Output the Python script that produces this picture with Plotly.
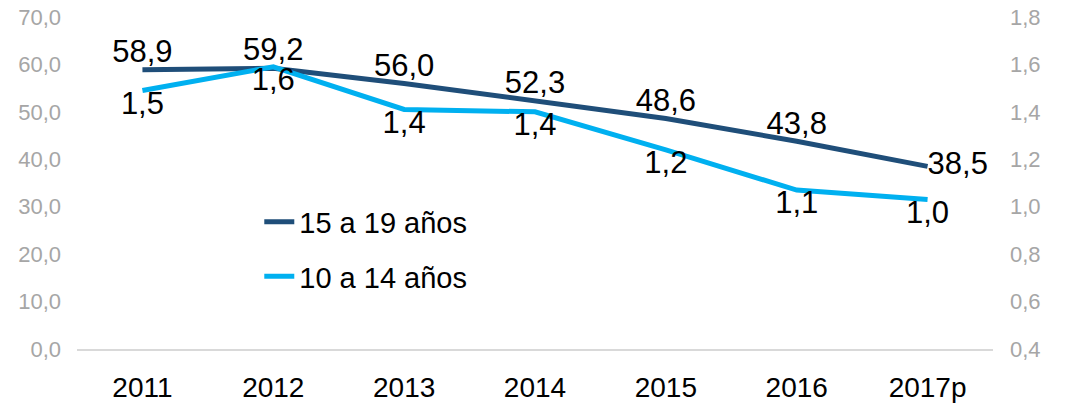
import plotly.graph_objects as go

years = ["2011", "2012", "2013", "2014", "2015", "2016", "2017p"]
teen_15_19 = [58.9, 59.2, 56.0, 52.3, 48.6, 43.8, 38.5]
teen_10_14 = [1.49, 1.59, 1.41, 1.40, 1.24, 1.07, 1.03]
name_15_19 = "15 a 19 años"
name_10_14 = "10 a 14 años"

FONT = "Liberation Sans, Arial, sans-serif"
DARK = "#1F4E79"
LIGHT = "#00B0F0"

pos_dark = ["top center"] * (len(years) - 1) + ["middle right"]

fig = go.Figure()
fig.add_trace(go.Scatter(
    x=years, y=teen_15_19, name=name_15_19, mode="lines+text",
    line=dict(color=DARK, width=5),
    texttemplate="%{y:.1f}", textposition=pos_dark,
    textfont=dict(size=31, color="#000000", family=FONT),
    legendgroup="a", yaxis="y", cliponaxis=False,
))
fig.add_trace(go.Scatter(
    x=years, y=teen_10_14, name=name_10_14, mode="lines+text",
    line=dict(color=LIGHT, width=5),
    texttemplate="%{y:.1f}", textposition="bottom center",
    textfont=dict(size=31, color="#000000", family=FONT),
    legendgroup="b", yaxis="y2", cliponaxis=False,
))

fig.update_layout(
    width=1065, height=403,
    margin=dict(l=77, r=72, t=17, b=54, autoexpand=False),
    paper_bgcolor="white", plot_bgcolor="white",
    separators=",.",
    font=dict(family=FONT),
    showlegend=True,
    legend=dict(
        x=0.199, y=0.46, xanchor="left", yanchor="top",
        font=dict(size=29, color="#000000", family=FONT),
        tracegroupgap=14, bgcolor="rgba(0,0,0,0)",
        traceorder="grouped",
    ),
    xaxis=dict(
        type="category", range=[-0.5, 6.5], automargin=False,
        showgrid=False, zeroline=False,
        showline=True, linecolor="#D9D9D9", linewidth=1.5,
        ticks="", ticklabelstandoff=13,
        tickfont=dict(size=28, color="#000000", family=FONT),
    ),
    yaxis=dict(
        range=[0, 70], dtick=10, tickformat=".1f", automargin=False,
        showgrid=False, zeroline=False, showline=False,
        ticks="", ticklabelstandoff=15, ticklabeloverflow="allow",
        tickfont=dict(size=22, color="#A6A6A6", family=FONT),
    ),
    yaxis2=dict(
        range=[0.4, 1.8], dtick=0.2, tickformat=".1f", automargin=False,
        overlaying="y", side="right",
        showgrid=False, zeroline=False, showline=False,
        ticks="", ticklabelstandoff=16, ticklabeloverflow="allow",
        tickfont=dict(size=22, color="#A6A6A6", family=FONT),
    ),
)

# remove the page's default 8px body margin so the figure sits at the window's corner
fig.write_html(
    "out.html",
    config={"displayModeBar": False},
    post_script="document.body.style.margin='0';",
)
